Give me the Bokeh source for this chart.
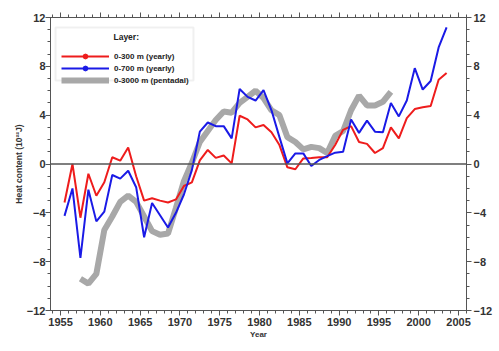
from bokeh.plotting import figure
from bokeh.models import (Range1d, LinearAxis, SingleIntervalTicker, Span, Legend,
                          LegendItem, Label, CustomJSTickFormatter, ColumnDataSource,
                          BoxAnnotation)
from bokeh.embed import file_html
from bokeh.resources import INLINE

# ---- data ----
years_yearly = list(range(1955, 2004))
heat_0_300 = [-3.15, 0.0, -4.4, -0.8, -2.6, -1.5, 0.55, 0.27, 1.35, -1.0,
              -3.0, -2.8, -3.0, -3.15, -2.9, -1.8, -1.5, 0.3, 1.15, 0.5,
              0.7, 0.05, 3.95, 3.65, 3.0, 3.2, 2.6, 1.55, -0.27, -0.43,
              0.46, 0.5, 0.55, 0.55, 1.55, 2.8, 3.1, 1.8, 1.65, 0.9,
              1.3, 3.0, 2.1, 3.75, 4.5, 4.65, 4.75, 6.9, 7.45]
heat_0_700 = [-4.25, -2.0, -7.7, -2.1, -4.7, -3.9, -0.9, -1.2, -0.55, -1.9,
              -6.0, -3.2, -4.2, -5.2, -4.0, -2.5, -0.5, 2.65, 3.4, 3.1,
              3.1, 2.1, 6.15, 5.5, 5.2, 6.05, 4.4, 2.2, 0.05, 0.87,
              0.87, -0.16, 0.33, 0.65, 0.93, 1.0, 3.65, 2.55, 3.55, 2.65,
              2.6, 5.0, 3.9, 5.2, 7.85, 6.1, 6.8, 9.55, 11.2]
years_pentadal = list(range(1957, 1997))
heat_0_3000 = [-9.4, -9.8, -9.0, -5.4, -4.3, -3.1, -2.6, -3.1, -4.3, -5.5,
               -5.8, -5.7, -3.6, -1.4, 0.1, 1.8, 2.7, 3.6, 4.3, 4.2,
               5.0, 5.5, 6.0, 5.4, 4.4, 4.0, 2.2, 1.8, 1.2, 1.4,
               1.3, 0.9, 2.3, 2.7, 4.4, 5.6, 4.8, 4.8, 5.1, 5.9]
x_ticks_interval = 5
y_ticks_interval = 4

x_yearly = [y + 0.5 for y in years_yearly]
x_pent = [y + 0.5 for y in years_pentadal]

FONT = "Liberation Sans"
RED = "#ee1c1c"
BLUE = "#1a1ae6"
GRAY = "#a8a8a8"
AXC = "#555555"

p = figure(width=499, height=351, output_backend="svg", toolbar_location=None,
           x_range=Range1d(1953.74, 2006.0), y_range=Range1d(-12, 12),
           min_border_left=50, min_border_right=33, min_border_top=17,
           min_border_bottom=41, background_fill_color="white",
           border_fill_color="white")
p.outline_line_color = AXC
p.outline_line_width = 1
p.xgrid.visible = False
p.ygrid.visible = False

xt = SingleIntervalTicker(interval=x_ticks_interval, num_minor_ticks=5)
yt = SingleIntervalTicker(interval=y_ticks_interval, num_minor_ticks=4)


def style_axis(ax, labels=True):
    ax.axis_line_color = AXC
    ax.major_tick_line_color = AXC
    ax.minor_tick_line_color = AXC
    ax.major_tick_out = 5
    ax.major_tick_in = 0
    ax.minor_tick_out = 3
    ax.minor_tick_in = 0
    ax.major_label_text_font = FONT
    ax.major_label_text_font_style = "bold"
    ax.major_label_text_font_size = "11px"
    ax.major_label_text_color = "#333333"
    ax.major_label_standoff = 2
    if not labels:
        ax.formatter = CustomJSTickFormatter(code="return ''")


xa = p.xaxis[0]
xa.ticker = xt
style_axis(xa)
xa.axis_label = "Year"
xa.axis_label_text_font = FONT
xa.axis_label_text_font_style = "bold"
xa.axis_label_text_font_size = "8px"
xa.axis_label_standoff = 1
xa.axis_label_text_color = "#333333"

ya = p.yaxis[0]
ya.ticker = yt
style_axis(ya)
ya.major_label_standoff = 0
ya.axis_label = "Heat content (10²²J)"
ya.axis_label_text_font = FONT
ya.axis_label_text_font_style = "bold"
ya.axis_label_text_font_size = "8.5px"
ya.axis_label_standoff = 0
ya.axis_label_text_color = "#333333"

top = LinearAxis(ticker=SingleIntervalTicker(interval=x_ticks_interval, num_minor_ticks=5))
style_axis(top, labels=False)
p.add_layout(top, "above")

right = LinearAxis(ticker=SingleIntervalTicker(interval=y_ticks_interval, num_minor_ticks=4))
style_axis(right)
p.add_layout(right, "right")

p.add_layout(Span(location=0, dimension="width", line_color=AXC, line_width=1.5))

r_gray = p.line(x_pent, heat_0_3000, line_color=GRAY, line_width=6)
r_red = p.line(x_yearly, heat_0_300, line_color=RED, line_width=2)
r_blue = p.line(x_yearly, heat_0_700, line_color=BLUE, line_width=2)

# legend frame (drawn separately so the heading can sit on top)
p.add_layout(BoxAnnotation(left=1954.37, right=1971.7, top=11.18, bottom=6.84,
                           fill_color="white", fill_alpha=1,
                           line_color="#cccccc", line_width=2))

# legend-only marker renderers
src_nan = ColumnDataSource(dict(x=[float("nan")], y=[float("nan")]))
m_red = p.scatter("x", "y", source=src_nan, size=9, fill_color=RED, line_color=RED)
m_blue = p.scatter("x", "y", source=src_nan, size=9, fill_color=BLUE, line_color=BLUE)

legend = Legend(items=[
    LegendItem(label="0-300 m (yearly)", renderers=[r_red, m_red]),
    LegendItem(label="0-700 m (yearly)", renderers=[r_blue, m_blue]),
    LegendItem(label="0-3000 m (pentadal)", renderers=[r_gray]),
], location=(11, 224))
legend.title = " "
legend.title_text_font_size = "9px"
legend.title_standoff = 0
legend.label_text_font = FONT
legend.label_text_font_style = "bold"
legend.label_text_font_size = "8px"
legend.label_text_color = "#222222"
legend.label_height = 12
legend.glyph_height = 12
legend.glyph_width = 48
legend.spacing = 0
legend.padding = 4
legend.margin = 0
legend.label_standoff = 5
legend.border_line_color = None
legend.background_fill_alpha = 0
p.add_layout(legend)

# legend heading, placed just above the legend labels
p.add_layout(Label(x=1961.65, y=10.4, text="Layer:", text_font=FONT,
                   text_font_style="bold", text_font_size="8.5px",
                   text_color="#222222", text_baseline="middle",
                   text_align="left"))

open("out.html", "w").write(file_html(p, INLINE))
